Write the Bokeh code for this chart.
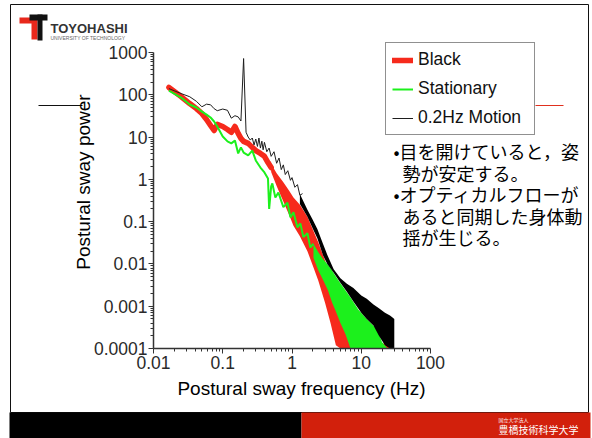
import math
from bokeh.plotting import figure
from bokeh.models import Range1d, FixedTicker, Legend, LegendItem, Label, BoxAnnotation
from bokeh.embed import file_html
from bokeh.resources import INLINE

# ---------------- data ----------------
x_ticks = [0.01, 0.1, 1, 10, 100]
x_tick_labels = ["0.01", "0.1", "1", "10", "100"]
y_ticks = [0.0001, 0.001, 0.01, 0.1, 1, 10, 100, 1000]
y_tick_labels = ["0.0001", "0.001", "0.01", "0.1", "1", "10", "100", "1000"]

series_names = ["Black", "Stationary", "0.2Hz Motion"]

# "Black" condition (red, thick line) - low-frequency part
red_freq = [0.0167, 0.025, 0.0333, 0.0417, 0.05, 0.0583, 0.0667, 0.075, 0.0833, 0.1,
            0.117, 0.133, 0.15, 0.167, 0.183, 0.2, 0.233, 0.267, 0.3, 0.35, 0.4, 0.45, 0.5]
red_power = [149, 91, 62, 47, 36, 26, 18.8, 14.3, 19.9, 17.8,
             15.1, 12.9, 17.8, 12.2, 9.3, 7.9, 7.1, 5.7, 4.8, 4.1, 3.5, 2.5, 1.9]
# dense noisy part drawn as a band (upper / lower envelope)
red_band_freq = [0.5, 0.6, 0.75, 0.9, 1.05, 1.3, 1.67, 2.0, 2.4, 3.0, 3.6, 4.3, 5.0, 6.0,
                 7.0, 8.5, 10, 15, 22, 29]
red_band_hi = [2.3, 1.4, 0.85, 0.55, 0.37, 0.25, 0.13, 0.065, 0.032, 0.012, 0.005, 0.0023,
               0.0012, 0.0007, 0.0004, 0.00025, 0.00018, 0.00014, 0.00013, 0.00012]
red_band_lo = [1.5, 0.7, 0.3, 0.15, 0.08, 0.045, 0.02, 0.009, 0.004, 0.0012, 0.0004, 0.00012,
               0.0001, 0.0001, 0.0001, 0.0001, 0.0001, 0.0001, 0.0001, 0.0001]

# "Stationary" condition (green)
green_freq = [0.0167, 0.025, 0.0333, 0.0417, 0.05, 0.0583, 0.0667, 0.075, 0.0833, 0.1,
              0.117, 0.133, 0.15, 0.167, 0.183, 0.2, 0.233, 0.267, 0.3, 0.35, 0.4, 0.45,
              0.468, 0.5, 0.52, 0.575, 0.636, 0.75, 0.86, 0.95, 1.05, 1.2, 1.32, 1.46,
              1.67, 1.84, 2.04]
green_power = [126, 86, 59, 50, 40, 34, 29, 23.4, 17.8, 10.3,
               7.9, 7.1, 8.3, 4.1, 5.7, 4.3, 3.7, 4.8, 2.8, 1.9, 1.46, 1.05,
               0.2, 0.68, 0.8, 0.37, 0.49, 0.22, 0.28, 0.126, 0.166, 0.073, 0.091, 0.043,
               0.053, 0.0245, 0.03]
green_band_freq = [2.04, 2.4, 2.8, 3.3, 3.8, 4.2, 5.0, 5.9, 7.0, 9.1, 12, 17, 20, 24]
green_band_hi = [0.03, 0.019, 0.013, 0.0095, 0.007, 0.0053, 0.0035, 0.0024, 0.0016,
                 0.00082, 0.0005, 0.00028, 0.00014, 0.0001]
green_band_lo = [0.014, 0.007, 0.0042, 0.0024, 0.0012, 0.00082, 0.0004, 0.00022, 0.0001,
                 0.0001, 0.0001, 0.0001, 0.0001, 0.0001]

# "0.2Hz Motion" condition (black thin line)
black_freq = [0.0167, 0.025, 0.0333, 0.0417, 0.05, 0.0583, 0.0667, 0.075, 0.0833, 0.1,
              0.117, 0.133, 0.15, 0.167, 0.183, 0.2, 0.217, 0.233, 0.25, 0.267, 0.283,
              0.3, 0.317, 0.333, 0.35, 0.367, 0.383, 0.4, 0.433, 0.467, 0.5, 0.55, 0.6,
              0.65, 0.7, 0.75, 0.8, 0.87, 0.95, 1.0, 1.1, 1.2, 1.3, 1.42]
black_power = [140, 107, 90, 70, 52, 60, 58, 47, 42, 46,
               43, 28, 32, 30, 24, 720, 13, 10, 8.5, 9.5, 6.5,
               9, 6, 9.5, 5.5, 8, 5, 7.5, 4.5, 5.5, 3.5, 4.5, 2.4,
               3.2, 1.7, 2.2, 1.3, 1.6, 0.95, 1.1, 0.65, 0.75, 0.42, 0.46]
black_band_freq = [1.3, 1.67, 2.0, 2.33, 2.8, 3.25, 4.0, 5.0, 6.2, 7.7, 10, 12, 15, 18,
                   22, 26, 28, 30]
black_band_hi = [0.45, 0.19, 0.11, 0.066, 0.03, 0.016, 0.0075, 0.0046, 0.0034, 0.0027,
                 0.0018, 0.0015, 0.0011, 0.0009, 0.0007, 0.0006, 0.00055, 0.0005]
black_band_lo = [0.26, 0.13, 0.068, 0.04, 0.016, 0.0098, 0.0062, 0.0036, 0.0022, 0.0013,
                 0.0007, 0.0005, 0.00035, 0.0002, 0.00012, 0.0001, 0.0001, 0.0001]

annotation_lines = ["•目を開けていると，姿", "勢が安定する。", "•オプティカルフローが",
                    "あると同期した身体動", "揺が生じる。"]

# ---------------- layout ----------------
W, H = 592, 438
# where the axes of the chart sit on the canvas (pixels from top-left)
AX_L, AX_R, AX_T, AX_B = 153, 430, 52, 348
X_LO, X_HI = math.log10(x_ticks[0]), math.log10(x_ticks[-1])
Y_LO, Y_HI = math.log10(y_ticks[0]), math.log10(y_ticks[-1])
xppd = (AX_R - AX_L) / (X_HI - X_LO)
yppd = (AX_B - AX_T) / (Y_HI - Y_LO)
x_range = Range1d(10 ** (X_LO - AX_L / xppd), 10 ** (X_HI + (W - AX_R) / xppd))
y_range = Range1d(10 ** (Y_LO - (H - AX_B) / yppd), 10 ** (Y_HI + AX_T / yppd))


def sx(px):
    return px


def sy(py):
    return H - py


p = figure(width=W, height=H, x_axis_type="log", y_axis_type="log",
           x_range=x_range, y_range=y_range,
           output_backend="svg", toolbar_location=None, title=None,
           min_border=0, min_border_left=0, min_border_right=0,
           min_border_top=0, min_border_bottom=0)
p.outline_line_color = None
p.background_fill_color = "white"
p.border_fill_color = "white"
p.xgrid.grid_line_color = None
p.ygrid.grid_line_color = None

x_minor = [m * 10.0 ** e for e in range(-2, 2) for m in range(2, 10)]
y_minor = [m * 10.0 ** e for e in range(-4, 3) for m in range(2, 10)]
p.xaxis.ticker = FixedTicker(ticks=x_ticks, minor_ticks=x_minor)
p.yaxis.ticker = FixedTicker(ticks=y_ticks, minor_ticks=y_minor)
p.xaxis.major_label_overrides = dict(zip(x_ticks, x_tick_labels))
p.yaxis.major_label_overrides = dict(zip(y_ticks, y_tick_labels))
p.xaxis.fixed_location = y_ticks[0]
p.yaxis.fixed_location = x_ticks[0]
p.xaxis.bounds = (x_ticks[0], x_ticks[-1])
p.yaxis.bounds = (y_ticks[0], y_ticks[-1])

for ax in (p.xaxis, p.yaxis):
    ax.axis_line_color = "#333333"
    ax.axis_line_width = 1.5
    ax.major_tick_line_color = "#333333"
    ax.minor_tick_line_color = "#333333"
    ax.major_tick_out = 5
    ax.major_tick_in = 0
    ax.minor_tick_out = 3
    ax.minor_tick_in = 0
    ax.major_label_text_font = "Liberation Sans"
    ax.major_label_text_font_size = "17.5px"
    ax.major_label_text_color = "#2a2a2a"
p.xaxis.major_label_standoff = 2
p.yaxis.major_label_standoff = 1

RED = "#f62a1c"
GREEN = "#1cf01c"
BLACK = "#1e1e1e"

# drawing order: Black condition (red) below, Stationary (green), 0.2Hz Motion on top
p.varea(x=red_band_freq, y1=red_band_lo, y2=red_band_hi, fill_color=RED)
red_line = p.line(red_freq, red_power, line_color=RED, line_width=5.5,
                  line_join="round", line_cap="round")
p.varea(x=green_band_freq, y1=green_band_lo, y2=green_band_hi, fill_color=GREEN)
green_line = p.line(green_freq, green_power, line_color=GREEN, line_width=2)
p.varea(x=black_band_freq, y1=black_band_lo, y2=black_band_hi, fill_color="#000000")
black_line = p.line(black_freq, black_power, line_color=BLACK, line_width=1)

legend = Legend(items=[LegendItem(label=series_names[0], renderers=[red_line]),
                       LegendItem(label=series_names[1], renderers=[green_line]),
                       LegendItem(label=series_names[2], renderers=[black_line])],
                location=(sx(385), sy(135)), margin=0, padding=6, spacing=8,
                glyph_width=21, glyph_height=20, label_height=20, label_width=110,
                label_standoff=5, label_text_font="Liberation Sans",
                label_text_font_size="17.5px", label_text_color="#111111",
                border_line_color="#222222", border_line_width=1.5,
                background_fill_color="white", background_fill_alpha=1)
p.add_layout(legend)


def box(l, r, t, b, fill=None, line=None, lw=1):
    p.add_layout(BoxAnnotation(left=sx(l), right=sx(r), top=sy(t), bottom=sy(b),
                               left_units="screen", right_units="screen",
                               top_units="screen", bottom_units="screen",
                               fill_color=fill if fill else "white",
                               fill_alpha=1 if fill else 0,
                               line_color=line if line else "white",
                               line_alpha=1 if line else 0, line_width=lw))


def label(text, px, py, size, color="#000000", font="Liberation Sans", align="left",
          angle=0, style="normal"):
    p.add_layout(Label(x=sx(px), y=sy(py), x_units="screen", y_units="screen",
                       text=text, text_font=font, text_font_size=f"{size}px",
                       text_color=color, text_align=align, text_baseline="middle",
                       angle=angle, text_font_style=style))


# slide frame and footer bar
box(10, 588, 4, 412, line="#111111", lw=1)
box(9, 301, 412, 438, fill="#000000")
box(301, 590, 412, 438, fill="#d2200c")
label("国立大学法人", 498, 419, 5, color="#ffffff", font="Noto Sans CJK JP")
label("豊橋技術科学大学", 498, 428.5, 10, color="#ffffff", font="Noto Sans CJK JP")

# stray slide lines
box(38, 82, 104.5, 105.5, fill="#111111")
box(535, 563, 104.5, 105.5, fill="#e0301e")

# logo
box(19, 36, 17, 23, fill="#e8281c")
box(31, 37, 17, 39, fill="#e8281c")
box(29, 47, 14, 20, fill="#111111")
box(37, 42, 14, 40, fill="#111111")
label("TOYOHASHI", 50, 27.5, 13, color="#333333", style="bold")
label("UNIVERSITY OF TECHNOLOGY", 50, 37, 5, color="#666666")

# axis titles
label("Postural sway power", 83, 181.5, 19, align="center", angle=math.pi / 2)
label("Postural sway frequency (Hz)", 301, 388, 19, align="center")

# annotation text
ann_x = [393, 402, 393, 402, 402]
ann_y = [150, 172, 193, 215, 236]
for t, ax_, ay_ in zip(annotation_lines, ann_x, ann_y):
    label(t, ax_, ay_, 18, font="Noto Sans CJK JP")

open("out.html", "w").write(file_html(p, INLINE))
